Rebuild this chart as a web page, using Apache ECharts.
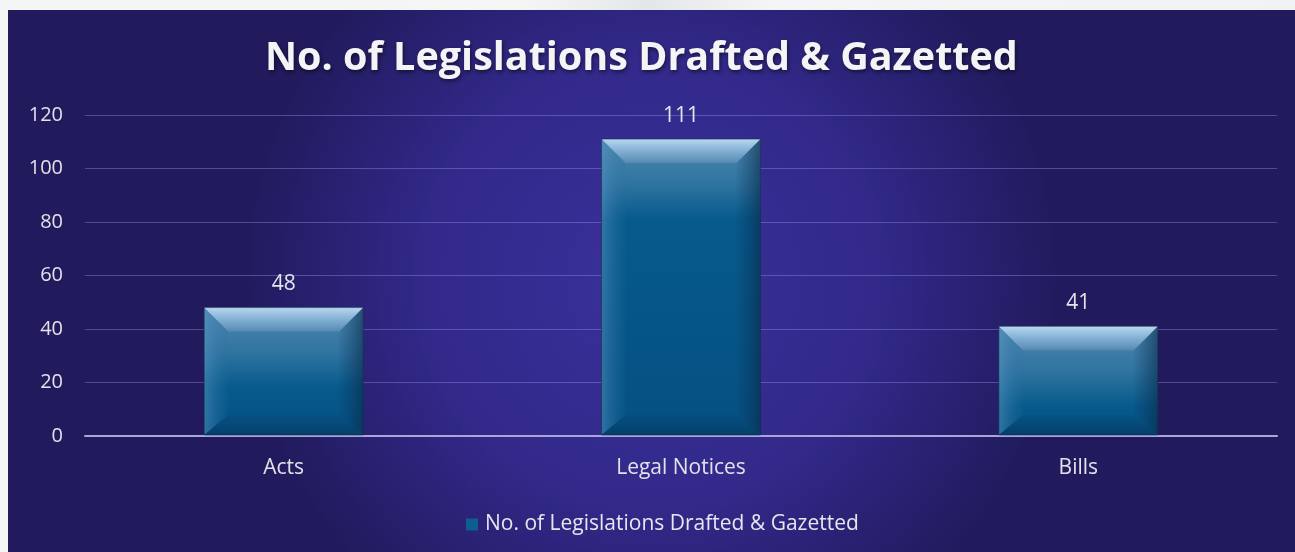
<!DOCTYPE html>
<html>
<head>
<meta charset="utf-8">
<script src="https://cdn.jsdelivr.net/npm/echarts@6/dist/echarts.min.js"></script>
<style>
  html, body { margin: 0; padding: 0; width: 1295px; height: 552px; overflow: hidden;
    background: linear-gradient(90deg, #f3f6f5 0%, #f5f6f6 40%, #e4e7ea 50%, #f4f5f6 60%, #f1f2f3 100%); }
  #chart { position: absolute; left: 8px; top: 10px; width: 1287px; height: 542px; }
</style>
</head>
<body>
<div id="chart"></div>
<script>
const titleText = 'No. of Legislations Drafted & Gazetted';
const seriesName = 'No. of Legislations Drafted & Gazetted';
const categories = ['Acts', 'Legal Notices', 'Bills'];
const values = [48, 111, 41];
const yTicks = { min: 0, max: 120, interval: 20 };

const chart = echarts.init(document.getElementById('chart'), null, { renderer: 'canvas' });

function lin(x0, y0, x1, y1, stops) {
  return new echarts.graphic.LinearGradient(x0, y0, x1, y1, stops.map(s => ({ offset: s[0], color: s[1] })));
}

const option = {
  backgroundColor: new echarts.graphic.RadialGradient(0.5, 0.5, 0.75, [
    { offset: 0, color: '#3a309b' },
    { offset: 0.55, color: '#32298a' },
    { offset: 1, color: '#211b5e' }
  ]),
  title: {
    text: titleText,
    left: 252,
    top: 24,
    textStyle: {
      color: '#f4f4f6',
      fontFamily: 'Open Sans',
      fontWeight: 'bold',
      fontSize: 39.5,
      textShadowColor: 'rgba(0,0,0,0.55)',
      textShadowBlur: 4,
      textShadowOffsetX: 1,
      textShadowOffsetY: 2
    }
  },
  legend: {
    data: [seriesName],
    top: 499,
    left: 453,
    icon: 'rect',
    itemWidth: 12,
    itemHeight: 12,
    textStyle: { color: '#e6e6ee', fontFamily: 'Open Sans', fontSize: 21, padding: [0, 0, 0, 2] }
  },
  grid: { left: 77, right: 18, top: 105, bottom: 116, containLabel: false },
  xAxis: {
    type: 'category',
    data: categories,
    axisLine: { lineStyle: { color: '#aaa7d8', width: 2 } },
    axisTick: { show: false },
    axisLabel: { color: '#e2e2ea', fontFamily: 'Open Sans', fontSize: 21, margin: 22 }
  },
  yAxis: {
    type: 'value',
    min: yTicks.min,
    max: yTicks.max,
    interval: yTicks.interval,
    axisLine: { show: false },
    axisTick: { show: false },
    axisLabel: { color: '#e2e2ea', fontFamily: 'Open Sans', fontSize: 20, margin: 22 },
    splitLine: { lineStyle: { color: 'rgba(140,135,220,0.45)', width: 1 } }
  },
  series: [{
    name: seriesName,
    type: 'custom',
    itemStyle: { color: '#0e5d8f' },
    data: categories.map((c, i) => [i, values[i]]),
    encode: { x: 0, y: 1 },
    renderItem: function (params, api) {
      const idx = api.value(0), val = api.value(1);
      const top = api.coord([idx, val]);
      const base = api.coord([idx, 0]);
      const bw = api.size([1, 0])[0] * 0.4;
      const x0 = top[0] - bw / 2, x1 = top[0] + bw / 2;
      const y0 = top[1], y1 = base[1] - 1;
      const h = y1 - y0;
      const b = Math.min(24, h / 3);
      const bb = Math.min(20, h / 3);
      return {
        type: 'group',
        children: [
          { type: 'rect', shape: { x: x0, y: y0, width: bw, height: h },
            style: { fill: lin(0, 0, 0, 1, [[0, '#4f87b0'], [0.5 * Math.min(1, 90 / h), '#2f74a0'], [Math.min(1, 80 / h), '#075a8c'], [1, '#055083']]) } },
          // left bevel
          { type: 'polygon', shape: { points: [[x0, y0], [x0 + b, y0 + b], [x0 + b, y1 - bb], [x0, y1]] },
            style: { fill: lin(0, 0, 1, 0, [[0, 'rgba(90,150,195,0.5)'], [1, 'rgba(40,110,160,0.1)']]) } },
          // right bevel
          { type: 'polygon', shape: { points: [[x1, y0], [x1 - b, y0 + b], [x1 - b, y1 - bb], [x1, y1]] },
            style: { fill: lin(1, 0, 0, 0, [[0, 'rgba(10,40,70,0.6)'], [1, 'rgba(10,50,90,0.05)']]) } },
          // bottom bevel
          { type: 'polygon', shape: { points: [[x0, y1], [x0 + b, y1 - bb], [x1 - b, y1 - bb], [x1, y1]] },
            style: { fill: lin(0, 0, 0, 1, [[0, 'rgba(5,70,115,0.25)'], [1, 'rgba(4,55,95,0.7)']]) } },
          // top bevel
          { type: 'polygon', shape: { points: [[x0, y0], [x1, y0], [x1 - b, y0 + b], [x0 + b, y0 + b]] },
            style: { fill: lin(0, 0, 0, 1, [[0, '#b9d7f0'], [0.45, '#86b3d6'], [1, '#5689b0']]) } },
          // outline
          { type: 'rect', shape: { x: x0, y: y0, width: bw, height: h },
            style: { fill: 'none', stroke: 'rgba(20,40,70,0.55)', lineWidth: 1 } },
          // value label
          { type: 'text', x: top[0], y: y0 - 13,
            style: { text: String(val), fill: '#e4e4ec', font: '21px "Open Sans"', align: 'center', verticalAlign: 'bottom' } }
        ]
      };
    }
  }]
};
chart.setOption(option);
</script>
</body>
</html>
